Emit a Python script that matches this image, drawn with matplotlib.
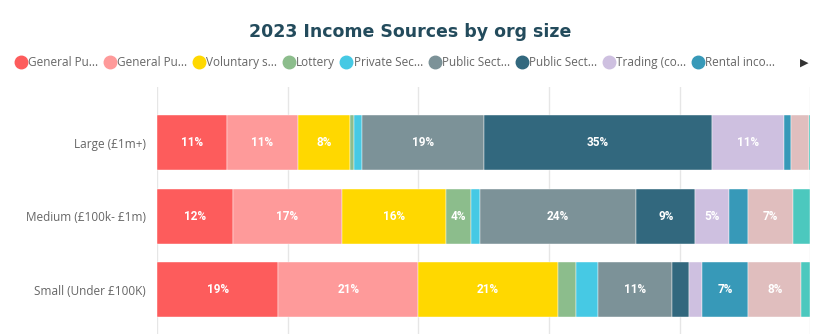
import matplotlib.pyplot as plt
from matplotlib.lines import Line2D
import numpy as np

##########################################################################################
# Data (share of income, %)
sizes = ['Large (£1m+)', 'Medium (£100k- £1m)', 'Small (Under £100K)']
sources = ['General Pu...', 'General Pu...', 'Voluntary s...', 'Lottery', 'Private Sec...',
           'Public Sect...', 'Public Sect...', 'Trading (co...', 'Rental inco...',
           'Other 1', 'Other 2']
large = [10.7, 10.9, 7.9, 0.6, 1.3, 18.6, 35.0, 11.0, 1.0, 2.8, 0.5]
medium = [11.6, 16.7, 15.9, 3.9, 1.3, 24.0, 9.0, 5.1, 3.0, 6.9, 2.6]
small = [18.6, 21.4, 21.4, 2.8, 3.3, 11.4, 2.5, 2.1, 7.0, 8.1, 1.4]
n_legend = 9

colors = ['#FD5C5C', '#FE9A9A', '#FFD800', '#8CBD8C', '#46C9E4', '#7C9298',
          '#32687E', '#CEC0E0', '#3799B8', '#E0BEBE', '#4CC8BE']

##########################################################################################
# Figure
fig = plt.figure(figsize=(8.21, 3.34), dpi=100)
ax = fig.add_axes([0.191, 0.0, 0.796, 0.74])

values = np.array([large, medium, small])
ypos = np.arange(len(sizes))
left = np.zeros(len(sizes))
for i in range(len(sources)):
    ax.barh(ypos, values[:, i], left=left, height=0.75, color=colors[i],
            edgecolor='white', linewidth=0.3, zorder=2)
    for j in range(len(sizes)):
        v = values[j, i]
        if v >= 3.5:
            ax.text(left[j] + v / 2, ypos[j], '%d%%' % int(v + 0.5), ha='center', va='center',
                    color='white', fontsize=8.5, fontweight='semibold', family='Roboto', zorder=3)
    left += values[:, i]

ax.set_xlim(0, 100)
ax.set_ylim(2.6, -0.76)
ax.set_xticks([0, 20, 40, 60, 80, 100])
ax.set_xticklabels([])
ax.tick_params(axis='x', length=0)
ax.tick_params(axis='y', length=0, pad=8, labelsize=8.5, labelcolor='#666666')
ax.set_yticks(ypos)
ax.set_yticklabels(sizes, family='Open Sans')
ax.grid(True, axis='x', color='#E6E6E6', lw=1, zorder=0)
for s in ax.spines.values():
    s.set_visible(False)

##########################################################################################
# Title and legend
fig.text(0.5, 0.905, '2023 Income Sources by org size', ha='center', va='center',
         fontsize=12.5, fontweight='heavy', color='#234B5C', family='DejaVu Sans')

handles = [Line2D([0], [0], marker='o', ls='', markersize=9, markerfacecolor=colors[i],
                  markeredgecolor=colors[i]) for i in range(n_legend)]
leg = fig.legend(handles, sources[:n_legend], loc='center left', bbox_to_anchor=(0.018, 0.813),
                 ncol=n_legend, frameon=False, handletextpad=0.15, columnspacing=0.45,
                 handlelength=1.0, borderpad=0, borderaxespad=0,
                 prop={'family': 'Open Sans', 'size': 8.5})
for t in leg.get_texts():
    t.set_color('#666666')
fig.text(0.98, 0.813, '▶', ha='center', va='center', fontsize=8, color='#333333')

fig.savefig('out.png', dpi=100)
plt.close(fig)
